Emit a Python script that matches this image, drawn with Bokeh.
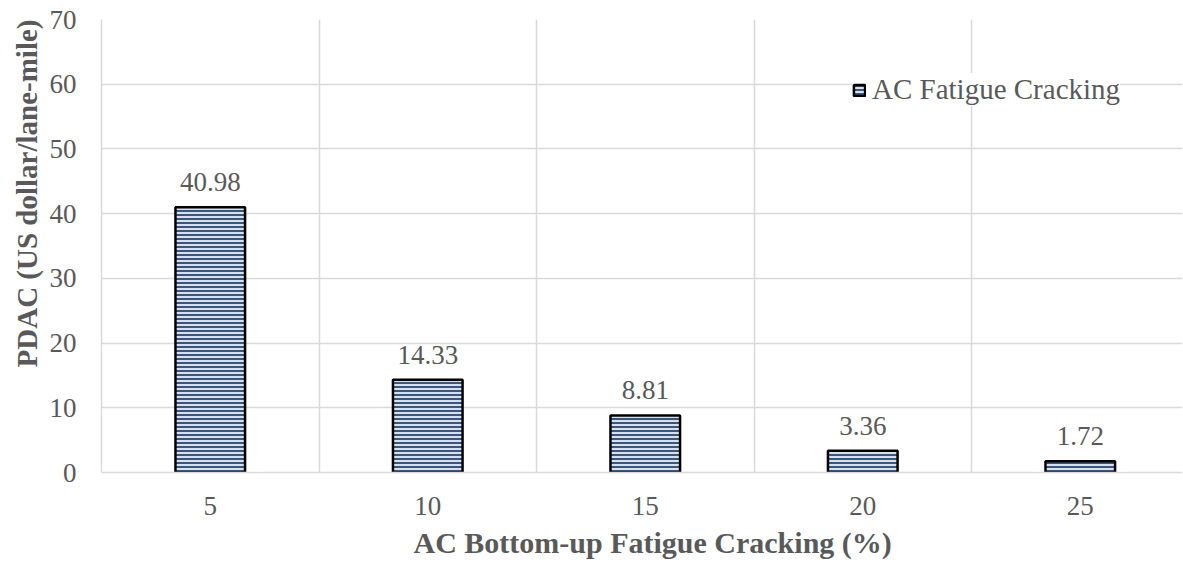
import math
from bokeh.plotting import figure
from bokeh.models import (ColumnDataSource, Range1d, FixedTicker, Title, Legend, LegendItem)
from bokeh.core.properties import value
from bokeh.embed import file_html
from bokeh.resources import INLINE

# ---- data ----
cracking_pct = [5, 10, 15, 20, 25]
pdac_values = [40.98, 14.33, 8.81, 3.36, 1.72]
value_labels = ["40.98", "14.33", "8.81", "3.36", "1.72"]
y_ticks = [0, 10, 20, 30, 40, 50, 60, 70]
series_name = "AC Fatigue Cracking"
x_title = "AC Bottom-up Fatigue Cracking (%)"
y_title = "PDAC (US dollar/lane-mile)"

FONT = "Liberation Serif"
GREY = "#595959"
GRID = "#d9d9d9"

src = ColumnDataSource(dict(x=cracking_pct, top=pdac_values, lab=value_labels))

p = figure(width=1182, height=565, output_backend="svg", toolbar_location=None,
           x_range=Range1d(2.5, 27.35), y_range=Range1d(0, 70),
           min_border_left=101, min_border_top=19, min_border_bottom=93, min_border_right=0)
p.outline_line_color = None
p.background_fill_color = "white"
p.border_fill_color = "white"

bars = p.vbar(x="x", top="top", width=1.6, bottom=0, source=src,
              fill_color="#d6e1f0", line_color="black", line_width=2.5,
              hatch_pattern="horizontal_line", hatch_color="#1f3d63",
              hatch_scale=4, hatch_weight=1.7)

p.text(x="x", y="top", text="lab", source=src, text_align="center", text_baseline="bottom",
       y_offset=-16, text_font=value(FONT), text_font_size="27px", text_color=GREY)

# axes
p.xaxis.ticker = FixedTicker(ticks=cracking_pct)
p.yaxis.ticker = FixedTicker(ticks=y_ticks)
for ax in (p.xaxis[0], p.yaxis[0]):
    ax.axis_line_color = GRID
    ax.axis_line_width = 1.5
    ax.major_tick_line_color = None
    ax.minor_tick_line_color = None
    ax.major_label_text_font = FONT
    ax.major_label_text_font_size = "27px"
    ax.major_label_text_color = GREY
p.xaxis.major_label_standoff = 18
p.yaxis.major_label_standoff = 19

# grids
p.xgrid.ticker = FixedTicker(ticks=[7.5, 12.5, 17.5, 22.5])
p.ygrid.ticker = FixedTicker(ticks=y_ticks)
for g in (p.xgrid[0], p.ygrid[0]):
    g.grid_line_color = GRID
    g.grid_line_width = 1.5

# axis titles
yt = Title(text=y_title, align="right", offset=0, text_font=FONT, text_font_size="29px",
           text_font_style="bold", text_color=GREY, standoff=8)
p.add_layout(yt, "left")
xt = Title(text=x_title, align="left", offset=312, text_font=FONT, text_font_size="30px",
           text_font_style="bold", text_color=GREY, standoff=12)
p.add_layout(xt, "below")

legend = Legend(items=[LegendItem(label=series_name, renderers=[bars])],
                location=(751, 366), orientation="vertical")
legend.label_text_font = FONT
legend.label_text_font_size = "29px"
legend.label_text_color = GREY
legend.glyph_width = 14
legend.glyph_height = 14
legend.label_standoff = 6
legend.padding = 10
legend.margin = 0
legend.border_line_color = None
legend.background_fill_color = "white"
legend.background_fill_alpha = 1.0
p.add_layout(legend, "center")

open("out.html", "w").write(file_html(p, INLINE))
